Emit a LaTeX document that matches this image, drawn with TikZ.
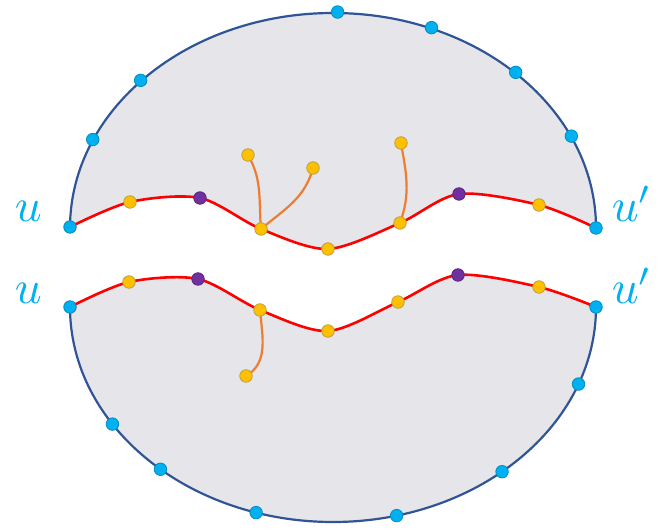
\documentclass[tikz,border=0pt]{standalone}
\usepackage{tikz}
\definecolor{rim}{HTML}{2F5597}
\definecolor{sheet}{HTML}{E6E5E9}
\definecolor{sky}{HTML}{00B0F0}
\definecolor{amber}{HTML}{FFC000}
\definecolor{plum}{HTML}{7030A0}
\definecolor{tangerine}{HTML}{ED7D31}
\begin{document}
\begin{tikzpicture}[x=1pt,y=1pt,
  edge/.style={draw=rim,line width=2.2pt},
  cut/.style={draw=red,line width=2.6pt},
  twig/.style={draw=tangerine,line width=2.2pt},
  dot/.style={circle,inner sep=0pt,minimum size=12.5pt,line width=0.8pt},
  bdot/.style={dot,fill=sky,draw=sky!80!black},
  ydot/.style={dot,fill=amber,draw=amber!50!gray},
  pdot/.style={dot,fill=plum,draw=plum!80!black},
  lab/.style={text=sky,anchor=base west,inner sep=0pt,scale=4.7}]
\useasboundingbox (0,0) rectangle (667,530);
% upper half
\coordinate (tc) at (333,303);
\coordinate (tu) at (70,303);
\coordinate (t1) at (130,328);
\coordinate (t2) at (200,332);
\coordinate (t3) at (261,301);
\coordinate (t4) at (328,281);
\coordinate (t5) at (400,307);
\coordinate (t6) at (459,336);
\coordinate (t7) at (539,325);
\coordinate (tv) at (596,302);
\coordinate (tx1) at (248,375);
\coordinate (tx2) at (313,362);
\coordinate (tx3) at (401,387);
% lower half
\coordinate (bc) at (333,223);
\coordinate (bu) at (70,223);
\coordinate (b1) at (129,248);
\coordinate (b2) at (198,251);
\coordinate (b3) at (260,220);
\coordinate (b4) at (328,199);
\coordinate (b5) at (398,228);
\coordinate (b6) at (458,255);
\coordinate (b7) at (539,243);
\coordinate (bv) at (596,223);
\coordinate (bx1) at (246,154);

\fill[sheet] plot[smooth] coordinates {(tu) (t1) (t2) (t3) (t4) (t5) (t6) (t7) (tv)}
  arc[start angle=0,end angle=180,x radius=263,y radius=215] -- cycle;
\fill[sheet] plot[smooth] coordinates {(bu) (b1) (b2) (b3) (b4) (b5) (b6) (b7) (bv)}
  arc[start angle=0,end angle=-180,x radius=263,y radius=215] -- cycle;
\draw[edge] (tv) arc[start angle=0,end angle=180,x radius=263,y radius=215];
\draw[edge] (bv) arc[start angle=0,end angle=-180,x radius=263,y radius=215];
\draw[cut] plot[smooth] coordinates {(tu) (t1) (t2) (t3) (t4) (t5) (t6) (t7) (tv)};
\draw[cut] plot[smooth] coordinates {(bu) (b1) (b2) (b3) (b4) (b5) (b6) (b7) (bv)};
\draw[twig] (t3) to[out=95,in=-60] (tx1);
\draw[twig] (t3) to[out=40,in=-105] (tx2);
\draw[twig] (t5) to[out=70,in=-80] (tx3);
\draw[twig] (b3) to[out=-85,in=30] (bx1);

\foreach \a in {25,46,68,89,137,156} \node[bdot] at ([shift={(\a:263 and 215)}]tc) {};
\foreach \a in {-21,-50,-76,-107,-131,-147} \node[bdot] at ([shift={(\a:263 and 215)}]bc) {};
\foreach \p in {tu,tv,bu,bv} \node[bdot] (\p-d) at (\p) {};
\foreach \p in {t1,t3,t4,t5,t7,tx1,tx2,tx3,b1,b3,b4,b5,b7,bx1} \node[ydot] (\p-d) at (\p) {};
\foreach \p in {t2,t6,b2,b6} \node[pdot] (\p-d) at (\p) {};

\node[lab] (ul) at (14,308) {$u$};
\node[lab] (vl) at (611,308) {$u'$};
\node[lab] (ul2) at (14,226) {$u$};
\node[lab] (vl2) at (611,226) {$u'$};
\end{tikzpicture}
\end{document}
